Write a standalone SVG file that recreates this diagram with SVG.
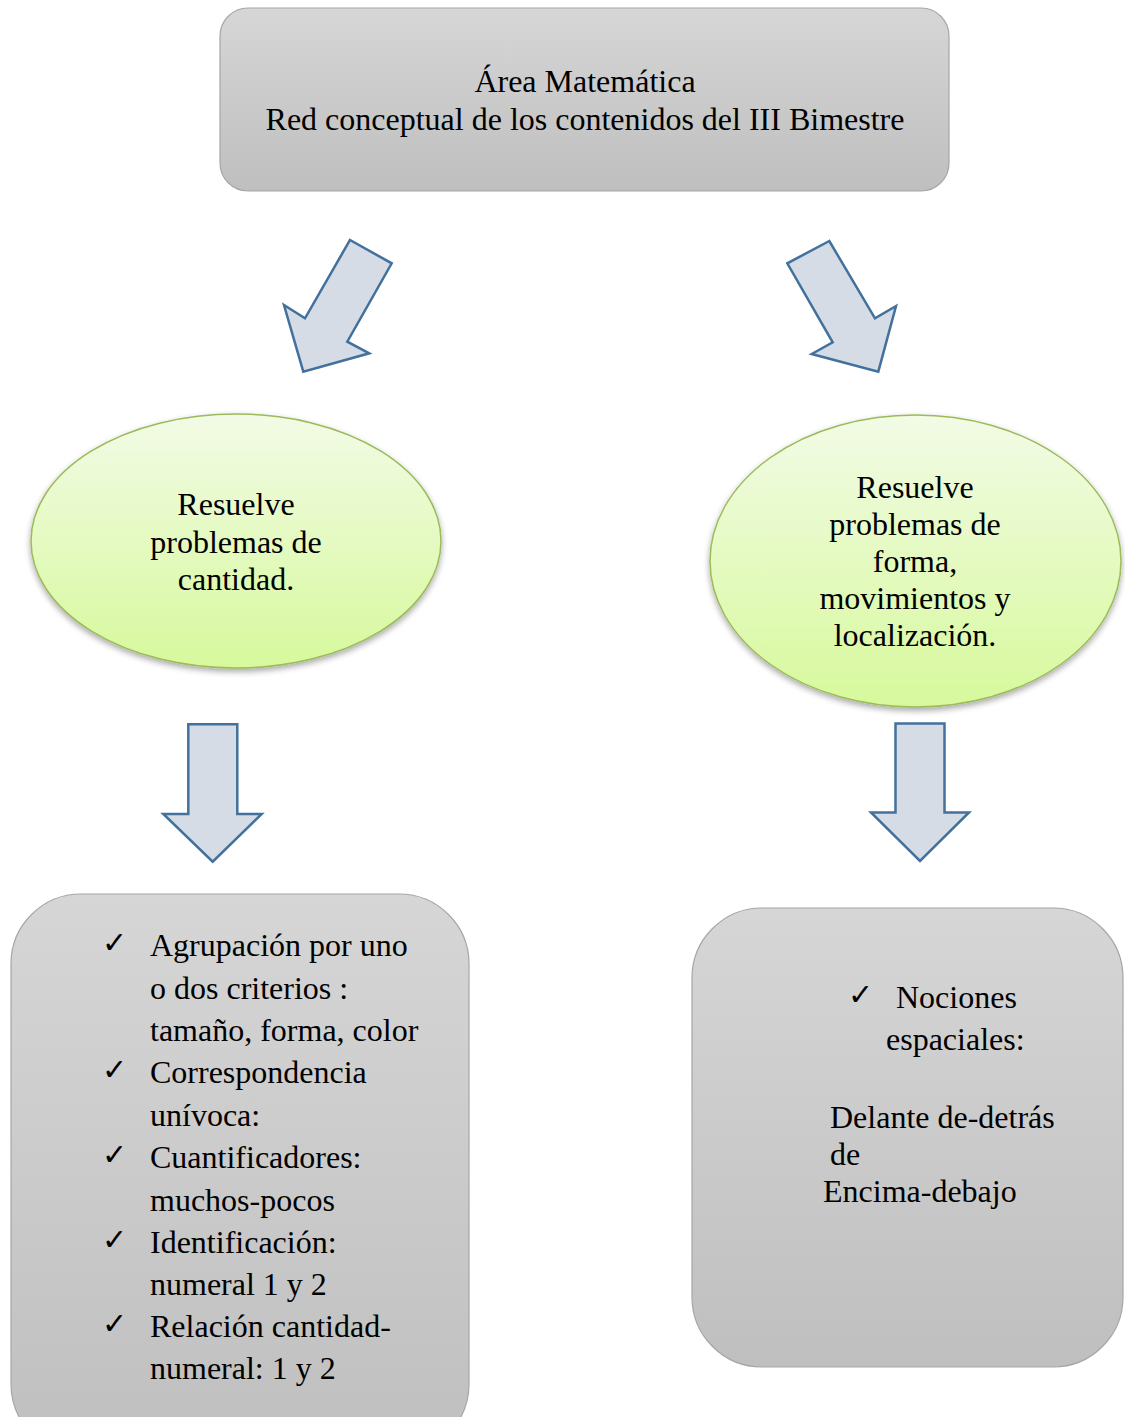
<svg xmlns="http://www.w3.org/2000/svg" width="1125" height="1417" viewBox="0 0 1125 1417">
  <defs>
    <linearGradient id="grayFill" x1="0" y1="0" x2="0" y2="1">
      <stop offset="0" stop-color="#d6d6d6"/>
      <stop offset="1" stop-color="#bfbfbf"/>
    </linearGradient>
    <linearGradient id="greenFill" x1="0" y1="0" x2="0" y2="1">
      <stop offset="0" stop-color="#f2fbe6"/>
      <stop offset="1" stop-color="#d7f99c"/>
    </linearGradient>
    <filter id="shadow" x="-10%" y="-10%" width="120%" height="130%">
      <feGaussianBlur in="SourceAlpha" stdDeviation="3"/>
      <feOffset dx="0" dy="3" result="b"/>
      <feComponentTransfer><feFuncA type="linear" slope="0.35"/></feComponentTransfer>
      <feMerge><feMergeNode/><feMergeNode in="SourceGraphic"/></feMerge>
    </filter>
  </defs>
  <style>
    .box { fill: url(#grayFill); stroke: #a6a6a6; stroke-width: 1.2; }
    .oval { fill: url(#greenFill); stroke: #9bbb59; stroke-width: 1.5; }
    .arrow { fill: #d5dce6; stroke: #41719c; stroke-width: 2.5; stroke-linejoin: miter; }
    text { font-family: "Liberation Serif", "Times New Roman", serif; font-size: 32px; fill: #000; }
    .c { text-anchor: middle; }
    .tick { font-family: "DejaVu Sans", sans-serif; font-size: 30px; font-weight: bold; }
  </style>

  <!-- title -->
  <g id="title">
    <rect class="box" x="220" y="8" width="729" height="183" rx="28" ry="28"/>
    <text class="c" x="585" y="92">Área Matemática</text>
    <text class="c" x="585" y="130">Red conceptual de los contenidos del III Bimestre</text>
  </g>

  <!-- block arrows -->
  <g id="connectors">
    <polygon class="arrow" points="350,240 391.7,263.3 347.3,341.7 369.3,353.3 303.3,371.7 284,305 305,318.3"/>
    <polygon class="arrow" points="829.3,241 787.3,263.3 832.7,342.3 811.7,354 878.3,371.7 896,306 875,318.3"/>
    <polygon class="arrow" points="188.3,724.3 237.3,724.3 237.3,814 261.7,814 212.7,861.7 163.3,814 188.3,814"/>
    <polygon class="arrow" points="895.5,723.5 944.5,723.5 944.5,812.5 969,812.5 920,861 871,812.5 895.5,812.5"/>
  </g>

  <!-- competency: quantity -->
  <g id="cantidad">
    <ellipse class="oval" cx="236" cy="541" rx="205" ry="127" filter="url(#shadow)"/>
    <text class="c" x="236" y="515">Resuelve</text>
    <text class="c" x="236" y="553">problemas de</text>
    <text class="c" x="236" y="590">cantidad.</text>
  </g>

  <!-- competency: shape, movement and location -->
  <g id="forma">
    <ellipse class="oval" cx="915.5" cy="561" rx="205.5" ry="146" filter="url(#shadow)"/>
    <text class="c" x="915" y="498">Resuelve</text>
    <text class="c" x="915" y="535">problemas de</text>
    <text class="c" x="915" y="572">forma,</text>
    <text class="c" x="915" y="609">movimientos y</text>
    <text class="c" x="915" y="646">localización.</text>
  </g>

  <!-- contents: quantity -->
  <g id="contenidos-cantidad">
    <rect class="box" x="11" y="894" width="458" height="560" rx="70" ry="70"/>
    <text class="tick" x="102" y="953">✓</text>
    <text x="150" y="956">Agrupación por uno</text>
    <text x="150" y="999">o dos criterios :</text>
    <text x="150" y="1041">tamaño, forma, color</text>
    <text class="tick" x="102" y="1080">✓</text>
    <text x="150" y="1083">Correspondencia</text>
    <text x="150" y="1126">unívoca:</text>
    <text class="tick" x="102" y="1165">✓</text>
    <text x="150" y="1168">Cuantificadores:</text>
    <text x="150" y="1211">muchos-pocos</text>
    <text class="tick" x="102" y="1250">✓</text>
    <text x="150" y="1253">Identificación:</text>
    <text x="150" y="1295">numeral 1 y 2</text>
    <text class="tick" x="102" y="1334">✓</text>
    <text x="150" y="1337">Relación cantidad-</text>
    <text x="150" y="1379">numeral: 1 y 2</text>
  </g>

  <!-- contents: spatial notions -->
  <g id="contenidos-forma">
    <rect class="box" x="692" y="908" width="431" height="459" rx="70" ry="70"/>
    <text class="tick" x="848" y="1005">✓</text>
    <text x="896" y="1008">Nociones</text>
    <text x="886" y="1050">espaciales:</text>
    <text x="830" y="1128">Delante de-detrás</text>
    <text x="830" y="1165">de</text>
    <text x="823" y="1202">Encima-debajo</text>
  </g>
</svg>
